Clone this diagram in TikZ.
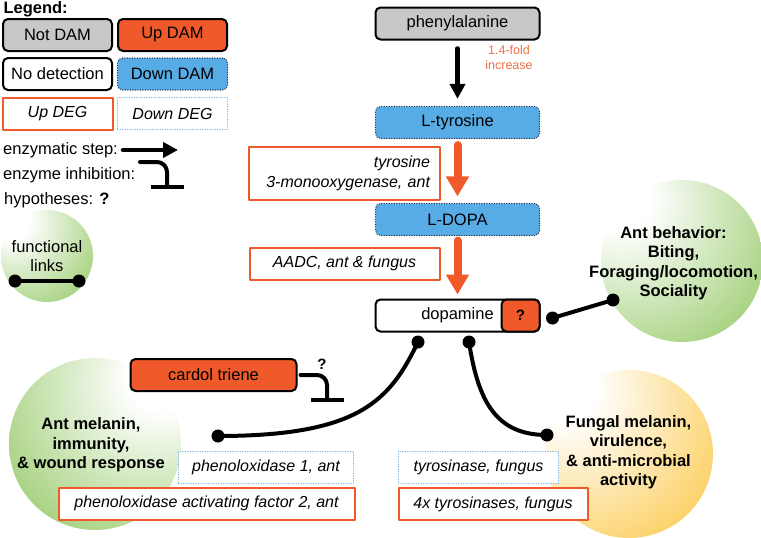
\documentclass[tikz,border=0pt]{standalone}
\usepackage{fontspec}
\setmainfont{Liberation Sans}
\usetikzlibrary{arrows.meta}

\definecolor{damgray}{RGB}{200,200,200}
\definecolor{damorange}{RGB}{240,90,42}
\definecolor{damblue}{RGB}{88,172,230}
\definecolor{dotnavy}{RGB}{30,45,80}
\definecolor{degblue}{RGB}{110,175,225}
\definecolor{foldorange}{RGB}{240,110,70}
\definecolor{linkgreen}{RGB}{108,180,44}
\definecolor{linkyellow}{RGB}{250,178,0}

% white spot in the upper left, full colour at the rim
\pgfdeclareradialshading{greenglow}{\pgfpoint{-22bp}{22bp}}{color(0bp)=(white); color(10bp)=(white); color(64bp)=(linkgreen); color(90bp)=(linkgreen)}
\pgfdeclareradialshading{yellowglow}{\pgfpoint{-22bp}{22bp}}{color(0bp)=(white); color(10bp)=(white); color(64bp)=(linkyellow); color(90bp)=(linkyellow)}

\begin{document}
\begin{tikzpicture}[x=1pt,y=-1pt,line cap=round,line join=round,
    font=\fontsize{16.5}{19.5}\selectfont,
    dam/.style={draw,line width=2pt,rounded corners=5pt,minimum height=32pt,inner sep=2pt},
    notdam/.style={dam,fill=damgray},
    updam/.style={dam,fill=damorange},
    nodet/.style={dam,fill=white},
    downdam/.style={dam,draw=dotnavy,line width=1.2pt,dash pattern=on 0.3pt off 2.2pt,fill=damblue},
    updeg/.style={draw=damorange,line width=2pt,fill=white,minimum height=32pt,inner sep=2pt,
      font=\fontsize{16}{19.5}\selectfont\itshape},
    downdeg/.style={draw=degblue,line width=1pt,dash pattern=on 0.3pt off 2.2pt,fill=white,
      minimum height=32pt,inner sep=2pt,font=\fontsize{16}{19.5}\selectfont\itshape},
    label/.style={align=center,font=\fontsize{16.5}{19.5}\selectfont\bfseries},
    enz/.style={line width=4.5pt,-{Triangle[length=15pt,width=15pt]}},
    enzred/.style={damorange,line width=8pt,-{Triangle[length=20pt,width=22pt]}},
    inhib/.style={line width=4pt,rounded corners=10pt,-{Bar[width=33pt]}},
    link/.style={line width=4pt}]
  \useasboundingbox (0,0) rectangle (761,538);

  % Background circles for the functional links
  \shade[shading=greenglow] (47,256) circle (46);
  \shade[shading=greenglow] (682,261) circle (81);
  \shade[shading=greenglow,shading angle=-90] (95,444) circle (86);
  \shade[shading=yellowglow] (629,454) circle (84);

  % Legend
  \node[anchor=base west,font=\fontsize{16.5}{19.5}\selectfont\bfseries] (legend) at (0,13) {Legend:};
  \node[notdam,minimum width=109] (keynotdam) at (57.5,35) {Not DAM};
  \node[updam,minimum width=109] (keyupdam) at (172.5,35) {Up DAM};
  \node[nodet,minimum width=109] (keynodet) at (57.5,74) {No detection};
  \node[downdam,minimum width=110] (keydowndam) at (172.5,74) {Down DAM};
  \node[updeg,minimum width=110] (keyupdeg) at (57.5,113.5) {Up DEG};
  \node[downdeg,minimum width=110] (keydowndeg) at (172.5,113.5) {Down DEG};
  \node[anchor=base west,inner sep=0] (keystep) at (3,154) {enzymatic step:};
  \node[anchor=base west,inner sep=0] (keyinhib) at (3,179) {enzyme inhibition:};
  \node[anchor=base west,inner sep=0] (keyhyp) at (4,204) {hypotheses: \textbf{?}};
  \node[align=center] (keylinks) at (47,256) {functional\\links};

  % Legend symbols
  \coordinate (keystepa) at (123,150);
  \coordinate (keystepb) at (178,150);
  \coordinate (keyinha) at (140,162);
  \coordinate (keyinhb) at (167,189);
  \coordinate (keyleft) at (15,281);
  \coordinate (keyright) at (79,281);
  \draw[enz] (keystepa) -- (keystepb);
  \draw[inhib] (keyinha) -| (keyinhb);
  \draw[link] (keyleft) -- (keyright);

  % Pathway
  \node[notdam,minimum width=164] (phe) at (457.5,23.5) {phenylalanine};
  \node[downdam,minimum width=164] (tyr) at (457.5,122.5) {L-tyrosine};
  \node[downdam,minimum width=164] (ldopa) at (457.5,219.5) {L-DOPA};
  \node[nodet,minimum width=164] (dopa) at (457.5,315.5) {dopamine};
  \node[updam,minimum width=38,anchor=east,font=\fontsize{15}{18}\selectfont\bfseries] (dq) at (dopa.east) {?};
  \node[align=center,text=foldorange,font=\fontsize{12.5}{15}\selectfont] (fold) at (509,58) {1.4-fold\\increase};
  \node[updeg,minimum height=53,text width=171,inner xsep=10,align=right] (tmo) at (344.5,173.5) {tyrosine\\3-monooxygenase, ant};
  \node[updeg,minimum width=190] (aadc) at (344.5,263.5) {AADC, ant \& fungus};

  % Enzymatic steps
  \draw[enz,shorten <=8pt,shorten >=7pt] (phe) -- (tyr);
  \draw[enzred,shorten <=6pt,shorten >=6.5pt] (tyr) -- (ldopa);
  \draw[enzred,shorten <=4.5pt,shorten >=4pt] (ldopa) -- (dopa);

  % Downstream
  \node[updam,minimum width=166] (cardol) at (213.5,375) {cardol triene};
  \node[font=\fontsize{15}{18}\selectfont\bfseries] (cardolq) at (322,364) {?};
  \coordinate (cardolbar) at (327,402);
  \draw[inhib] ([xshift=3pt]cardol.east) -| (cardolbar);

  \node[downdeg,minimum width=175] (po1) at (266,467.5) {phenoloxidase 1, ant};
  \node[updeg,minimum width=296] (ppaf) at (206.5,503.5) {phenoloxidase activating factor 2, ant};
  \node[downdeg,minimum width=160] (tyrase) at (478.5,467) {tyrosinase, fungus};
  \node[updeg,minimum width=189] (tyrases) at (493,504) {4x tyrosinases, fungus};

  \node[label] (antmel) at (91,445) {Ant melanin,\\immunity,\\\& wound response};
  \node[label] (fungmel) at (628.5,452) {Fungal melanin,\\virulence,\\\& anti-microbial\\activity};
  \node[label] (behav) at (673.5,263) {Ant behavior:\\Biting,\\Foraging/locomotion,\\Sociality};

  % Functional links
  \coordinate (dqdot) at ([shift={(12,2.5)}]dq.east);
  \coordinate (behavdot) at (613,300);
  \coordinate (dopaleft) at ([shift={(-39.5,9.5)}]dopa.south);
  \coordinate (antmeldot) at (218,436);
  \coordinate (doparight) at ([shift={(11.5,9.5)}]dopa.south);
  \coordinate (fungdot) at (547,435);
  \draw[link] (dqdot) -- (behavdot);
  \draw[link] (dopaleft) .. controls (390,400) and (360,436) .. (antmeldot);
  \draw[link] (doparight) .. controls (478,400) and (495,435) .. (fungdot);
  \foreach \p in {keyleft,keyright,dqdot,behavdot,dopaleft,antmeldot,doparight,fungdot}
    \fill (\p) circle (6.5);
\end{tikzpicture}
\end{document}
